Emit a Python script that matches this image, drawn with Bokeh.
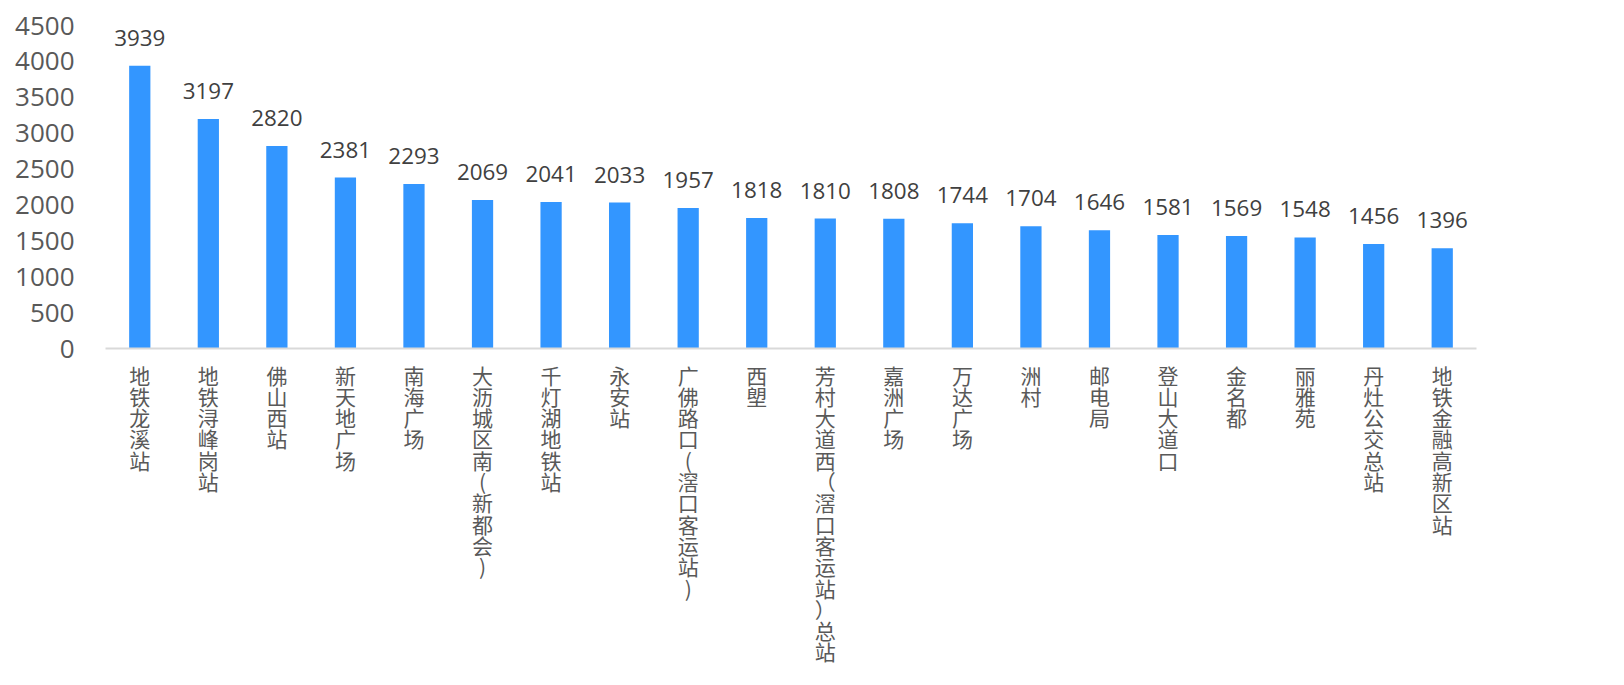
from bokeh.plotting import figure
from bokeh.models import ColumnDataSource, Range1d, FactorRange, LabelSet, FixedTicker
from bokeh.core.properties import value
from bokeh.embed import file_html
from bokeh.resources import INLINE

categories = ["地铁龙溪站", "地铁浔峰岗站", "佛山西站", "新天地广场", "南海广场",
              "大沥城区南(新都会)", "千灯湖地铁站", "永安站", "广佛路口(滘口客运站)", "西塱",
              "芳村大道西（滘口客运站）总站", "嘉洲广场", "万达广场", "洲村", "邮电局",
              "登山大道口", "金名都", "丽雅苑", "丹灶公交总站", "地铁金融高新区站"]
values = [3939, 3197, 2820, 2381, 2293, 2069, 2041, 2033, 1957, 1818,
          1810, 1808, 1744, 1704, 1646, 1581, 1569, 1548, 1456, 1396]
y_ticks = [0, 500, 1000, 1500, 2000, 2500, 3000, 3500, 4000, 4500]

# vertical (top-to-bottom) category labels: one character per line
factors = ["\n".join(list(c)) for c in categories]

src = ColumnDataSource(dict(cat=factors, val=values, lab=[str(v) for v in values]))

p = figure(width=1608, height=669, x_range=FactorRange(factors=factors, range_padding=0),
           y_range=Range1d(0, 4500), output_backend="svg", toolbar_location=None,
           min_border_left=105, min_border_right=132, min_border_top=25, min_border_bottom=319)
p.outline_line_color = None
p.grid.visible = False

p.vbar(x="cat", top="val", width=0.31, source=src, fill_color="#3396FF", line_color=None)

labels = LabelSet(x="cat", y="val", text="lab", source=src, text_align="center",
                  text_baseline="alphabetic", y_offset=20, text_font_size="22.4px",
                  text_font=value("Open Sans"), text_color="#404040")
p.add_layout(labels)

ya = p.yaxis[0]
ya.ticker = FixedTicker(ticks=y_ticks)
ya.axis_line_color = None
ya.major_tick_line_color = None
ya.minor_tick_line_color = None
ya.major_label_text_font = "Open Sans"
ya.major_label_text_font_size = "26px"
ya.major_label_text_color = "#595959"
ya.major_label_standoff = 25

xa = p.xaxis[0]
xa.axis_line_color = "#d9d9d9"
xa.axis_line_width = 2
xa.major_tick_line_color = None
xa.minor_tick_line_color = None
xa.major_label_text_font = "Noto Sans CJK SC"
xa.major_label_text_font_size = "21px"
xa.major_label_text_color = "#595959"
xa.major_label_text_line_height = 0.71
xa.major_label_standoff = 5

open("out.html", "w").write(file_html(p, INLINE))
